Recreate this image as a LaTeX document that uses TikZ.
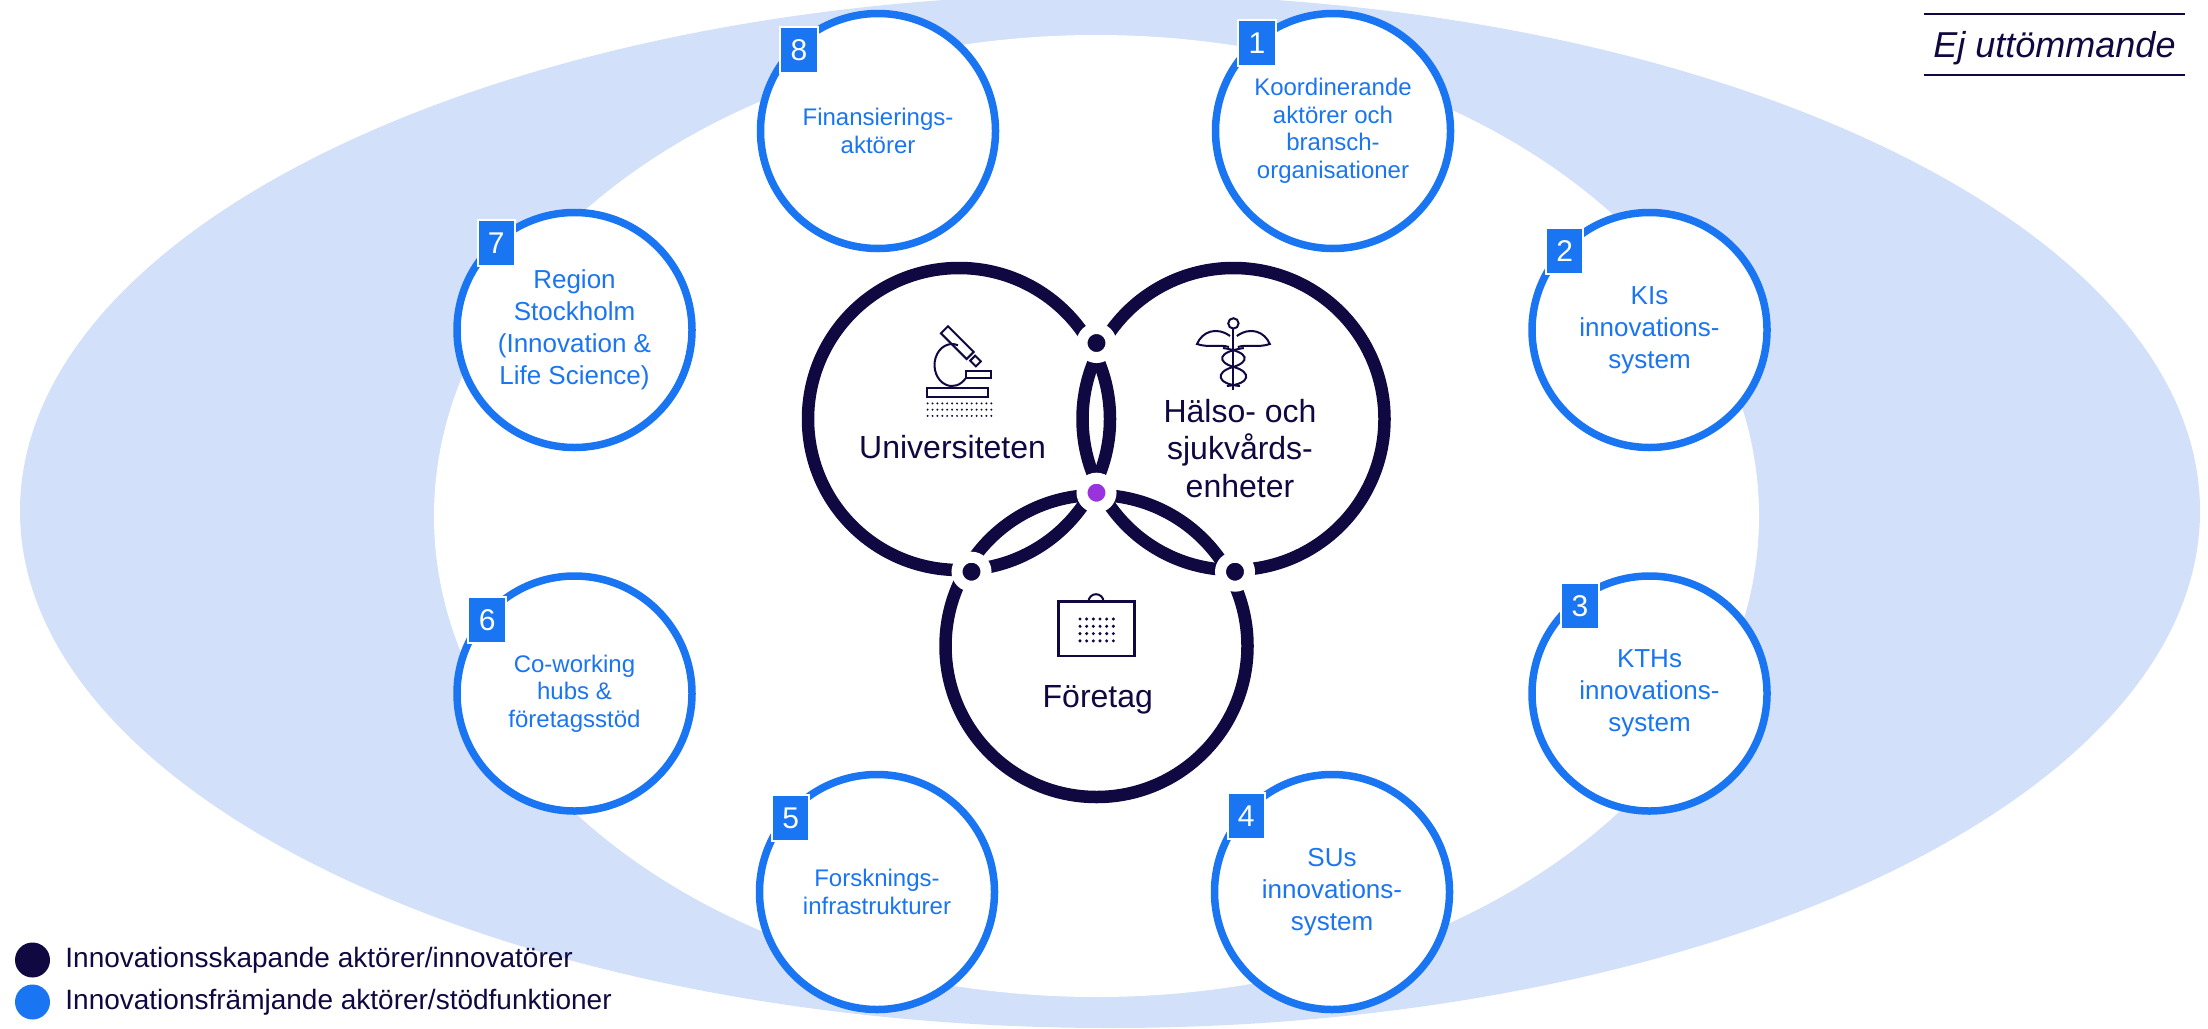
\documentclass[tikz,border=0pt]{standalone}
\usepackage{fontspec}
\setmainfont{Liberation Sans}
\usetikzlibrary{positioning}
\definecolor{navy}{RGB}{16,8,64}
\definecolor{kiblue}{RGB}{26,117,242}
\definecolor{bandblue}{RGB}{210,224,250}
\definecolor{knutlila}{RGB}{153,51,221}

\begin{document}
\begin{tikzpicture}[x=1pt, y=1pt, yscale=-1,
  stod/.style={circle, draw=kiblue, line width=7.5pt, fill=white, minimum size=235pt, inner sep=0pt, align=center, text=kiblue},
  liten/.style={font=\fontsize{24}{27.5}\selectfont},
  stor/.style={font=\fontsize{26}{32}\selectfont},
  badge/.style={rectangle, fill=kiblue, draw=white, line width=2pt, minimum width=37.5pt, minimum height=46pt, inner sep=0pt, text=white, font=\fontsize{30}{30}\selectfont},
  aktor/.style={circle, draw=navy, line width=12.5pt, minimum size=302pt, inner sep=0pt},
  knut/.style={circle, draw=white, line width=11pt, fill=navy, minimum size=29pt, inner sep=0pt},
  ikon/.style={draw=navy, line width=2pt},
  vtext/.style={text=navy, font=\fontsize{32}{37.8}\selectfont}]
\useasboundingbox (0,0) rectangle (2208,1028);

% Background ring
\fill[bandblue] (1110,511) ellipse[x radius=1090, y radius=517];
\fill[white] (1096.5,516) ellipse[x radius=662.5, y radius=481];

% Supporting actors
\node[stod, liten] (finans) at (878,131) {Finansierings-\\aktörer};
\node[stod, liten] (koord) at (1333,131) {Koordinerande\\aktörer och\\bransch-\\organisationer};
\node[stod, stor] (kis) at (1649.5,330) {KIs\\innovations-\\system};
\node[stod, stor] (kths) at (1649.5,693.5) {KTHs\\innovations-\\system};
\node[stod, stor] (sus) at (1332,892) {SUs\\innovations-\\system};
\node[stod, liten] (forsk) at (877,892) {Forsknings-\\infrastrukturer};
\node[stod, liten] (cowork) at (574.5,693.5) {Co-working\\hubs \&\\företagsstöd};
\node[stod, stor] (region) at (574.5,330) {Region\\Stockholm\\(Innovation \&\\Life Science)};

% Number badges
\node[badge] (n1) at (1257,42.7) {1};
\node[badge] (n2) at (1564.7,251.2) {2};
\node[badge] (n3) at (1580,606) {3};
\node[badge] (n4) at (1246.3,816.4) {4};
\node[badge] (n5) at (790.7,818.3) {5};
\node[badge] (n6) at (487.2,619.9) {6};
\node[badge] (n7) at (496.3,243.3) {7};
\node[badge] (n8) at (799,50) {8};

% Innovating actors
\node[aktor] (uni) at (959,419) {};
\node[aktor] (halso) at (1233.5,419) {};
\node[aktor] (ftg) at (1096.5,646) {};

% Knots where the circles meet
\node[knut] (ktop) at (1096.5,343) {};
\node[knut, fill=knutlila] (kmid) at (1096.5,492.7) {};
\node[knut] (kleft) at (971.5,571.7) {};
\node[knut] (kright) at (1235,571.7) {};

\node[vtext, anchor=base] (unitxt) at (952.6,458.3) {Universiteten};
\node[vtext, align=center] (halsotxt) at (1240,448.5) {Hälso- och\\sjukvårds-\\enheter};
\node[vtext, anchor=base] (ftgtxt) at (1097.8,707.7) {Företag};

% Microscope
\draw[ikon, rotate around={45:(957.3,342.6)}] (939.15,337.6) rectangle (975.45,347.6);
\draw[ikon, rotate around={45:(975.5,361)}] (971.5,357.5) rectangle (979.5,364.5);
\draw[ikon] (958,345.3) arc[start angle=290, end angle=40, x radius=17.5, y radius=21];
\draw[ikon] (965.5,370.7) rectangle (991.4,377.6);
\draw[ikon] (926.9,388) rectangle (988,397.2);
\foreach \i in {0,...,13}
  \foreach \j in {0,1,2}
    \fill[navy] (927.6+4.9*\i,403.4+6.25*\j) circle (1.1);

% Caduceus
\draw[ikon] (1233.4,323.4) circle (5.2);
\draw[ikon] (1233.4,328.6) -- (1233.4,390.3);
\draw[ikon] (1230,336) .. controls (1216,326) and (1202,332) .. (1197,344) .. controls (1208,348) and (1220,344) .. (1229,347);
\draw[ikon] (1236.8,336) .. controls (1250.8,326) and (1264.8,332) .. (1269.8,344) .. controls (1258.8,348) and (1246.8,344) .. (1237.8,347);
\draw[ikon] (1223,348) .. controls (1250,352) and (1250,362) .. (1233,367) .. controls (1215,372) and (1216,384) .. (1240,386);
\draw[ikon] (1243.8,348) .. controls (1216.8,352) and (1216.8,362) .. (1233.8,367) .. controls (1251.8,372) and (1250.8,384) .. (1226.8,386);

% Briefcase
\draw[ikon, line width=2.5pt] (1058.7,601.7) rectangle (1134.3,656);
\draw[ikon] (1088.5,601.7) arc[start angle=180, end angle=360, radius=7.5];
\foreach \i in {0,...,5}
  \foreach \j in {0,...,3}
    \fill[navy] (1080+6.67*\i,619+7.3*\j) circle (1.7);

% Legend
\node[circle, fill=navy, minimum size=35pt, inner sep=0pt] (leg1) at (32.5,960) {};
\node[circle, fill=kiblue, minimum size=35pt, inner sep=0pt] (leg2) at (32.5,1002) {};
\node[right=15pt of leg1, inner sep=0pt, text=navy, font=\fontsize{28}{28}\selectfont] (leg1txt) {Innovationsskapande aktörer/innovatörer};
\node[right=15pt of leg2, inner sep=0pt, text=navy, font=\fontsize{28}{28}\selectfont] (leg2txt) {Innovationsfrämjande aktörer/stödfunktioner};

% Not exhaustive
\node[text=navy, font=\fontsize{36}{36}\selectfont\itshape, minimum width=261pt, minimum height=61pt, inner sep=0pt, text height=25pt, text depth=0pt] (ej) at (2054.5,44.5) {Ej uttömmande};
\draw[navy, line width=2.5pt] (ej.north west) -- (ej.north east);
\draw[navy, line width=2.5pt] (ej.south west) -- (ej.south east);
\end{tikzpicture}
\end{document}
